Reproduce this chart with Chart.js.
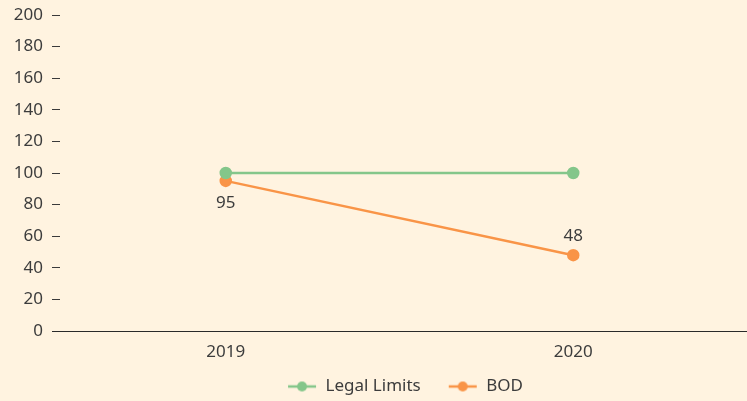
<!DOCTYPE html>
<html>
<head>
<meta charset="utf-8">
<script src="https://cdn.jsdelivr.net/npm/chart.js@4.4.0/dist/chart.umd.min.js"></script>
<style>
  html, body { margin: 0; padding: 0; background: #fff3e0; }
  #wrap { width: 747px; height: 401px; }
</style>
</head>
<body>
<div id="wrap"><canvas id="myChart"></canvas></div>
<script>
var years = ["2019", "2020"];
var legalLimits = [100, 100];
var bod = [95, 48];
var yTicks = [0, 20, 40, 60, 80, 100, 120, 140, 160, 180, 200];

var greenColor = "#84c68a";
var orangeColor = "#f99447";
var textColor = "#3c3c3c";
var fontName = "'Noto Sans', sans-serif";
var fontSize = 17;

// small picture of a line with a dot, used in the legend
// (blank strip on the left widens the gap between legend items)
function legendMark(color) {
  var c = document.createElement("canvas");
  c.width = 41;
  c.height = 12;
  var ctx = c.getContext("2d");
  ctx.strokeStyle = color;
  ctx.lineWidth = 2.5;
  ctx.beginPath();
  ctx.moveTo(12, 6);
  ctx.lineTo(40, 6);
  ctx.stroke();
  ctx.fillStyle = color;
  ctx.beginPath();
  ctx.arc(26, 6, 5, 0, Math.PI * 2);
  ctx.fill();
  return c;
}

// value labels for the BOD line
var valueLabels = {
  id: "valueLabels",
  afterDatasetsDraw: function (chart) {
    var ctx = chart.ctx;
    chart.data.datasets.forEach(function (ds, i) {
      if (!ds.showValues) return;
      var meta = chart.getDatasetMeta(i);
      meta.data.forEach(function (pt, j) {
        var below = ds.labelBelow[j];
        ctx.save();
        ctx.font = fontSize + "px " + fontName;
        ctx.fillStyle = textColor;
        ctx.textAlign = "center";
        ctx.textBaseline = "middle";
        ctx.fillText(ds.data[j], pt.x, below ? pt.y + 22 : pt.y - 19);
        ctx.restore();
      });
    });
  }
};

Chart.defaults.font.family = fontName;
Chart.defaults.font.size = fontSize;
Chart.defaults.color = textColor;

new Chart("myChart", {
  type: "line",
  data: {
    labels: years,
    datasets: [{
      label: "Legal Limits",
      data: legalLimits,
      borderColor: greenColor,
      backgroundColor: greenColor,
      borderWidth: 2.5,
      pointRadius: 5,
      pointHoverRadius: 5,
      legendImg: legendMark(greenColor)
    }, {
      label: "BOD",
      data: bod,
      borderColor: orangeColor,
      backgroundColor: orangeColor,
      borderWidth: 2.5,
      pointRadius: 5,
      pointHoverRadius: 5,
      showValues: true,
      labelBelow: [true, false],
      legendImg: legendMark(orangeColor)
    }]
  },
  options: {
    responsive: true,
    maintainAspectRatio: false,
    animation: false,
    layout: { autoPadding: false, padding: { top: 15, right: 0, left: 0, bottom: 0 } },
    plugins: {
      tooltip: { enabled: false },
      legend: {
        position: "bottom",
        fullSize: false,
        maxHeight: 39,
        labels: {
          usePointStyle: true,
          pointStyleWidth: 41,
          padding: 16,
          font: { size: fontSize, family: fontName },
          generateLabels: function (chart) {
            return chart.data.datasets.map(function (ds, i) {
              return {
                text: ds.label,
                fillStyle: ds.borderColor,
                strokeStyle: ds.borderColor,
                pointStyle: ds.legendImg,
                fontColor: textColor,
                datasetIndex: i,
                hidden: false
              };
            });
          }
        }
      }
    },
    scales: {
      x: {
        offset: true,
        afterFit: function (scale) {
          scale.height = 31;
          scale.paddingLeft = 0;
          scale.paddingRight = 0;
        },
        grid: { display: false, drawTicks: false, tickLength: 0 },
        border: { display: true, color: "#2a2a2a", width: 1 },
        ticks: { padding: 11, color: textColor, font: { size: fontSize, family: fontName } }
      },
      y: {
        min: 0,
        max: 200,
        afterBuildTicks: function (scale) {
          scale.ticks = yTicks.map(function (v) { return { value: v }; });
        },
        afterFit: function (scale) {
          scale.width = 52;
          scale.paddingTop = 0;
          scale.paddingBottom = 0;
        },
        grid: {
          drawOnChartArea: false,
          drawTicks: true,
          tickLength: -8,
          color: "#3a3a3a"
        },
        border: { display: false },
        ticks: { padding: 17, color: textColor, font: { size: fontSize, family: fontName } }
      }
    }
  },
  plugins: [valueLabels]
});
</script>
</body>
</html>
